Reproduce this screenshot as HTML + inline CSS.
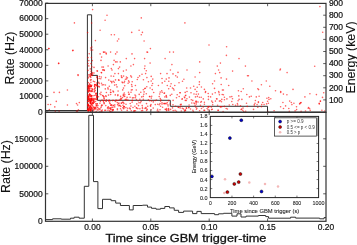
<!DOCTYPE html>
<html><head><meta charset="utf-8"><style>
html,body{margin:0;padding:0;background:#fff;}
svg{display:block;will-change:transform;}
text{font-family:"Liberation Sans",sans-serif;}
</style></head><body>
<svg width="357" height="245" viewBox="0 0 357 245" xmlns="http://www.w3.org/2000/svg">
<rect width="357" height="245" fill="#fff"/>
<path d="M45.5,110.5 L87.4,110.5 L87.4,14.8 L91.6,14.8 L91.6,75.4 L97.5,75.4 L97.5,100.3 L170.3,100.3 L170.3,106.3 L267.5,106.3 L267.5,112.3 L326.0,112.3" fill="none" stroke="#333" stroke-width="1.0"/>
<path d="M45.5,219.6 L52.6,219.6 L52.6,218.8 L61.3,218.8 L61.3,219.2 L70.5,219.2 L70.5,218.2 L74.2,218.2 L74.2,217.2 L79.1,217.2 L79.1,218.2 L84.3,218.2 L84.3,186.3 L88.8,186.3 L88.8,115.3 L93.5,115.3 L93.5,181.6 L97.9,181.6 L97.9,208.6 L102.5,208.6 L102.5,199.3 L111.1,199.3 L111.1,200.7 L115.7,200.7 L115.7,203.1 L120.4,203.1 L120.4,205.5 L129.4,205.5 L129.4,209.9 L133.2,209.9 L133.2,205.5 L142.6,205.5 L142.6,205.2 L147.5,205.2 L147.5,207.1 L151.5,207.1 L151.5,208.3 L156.0,208.3 L156.0,209.2 L160.5,209.2 L160.5,208.4 L164.8,208.4 L164.8,206.5 L169.5,206.5 L169.5,207.9 L174.2,207.9 L174.2,210.3 L178.6,210.3 L178.6,212.4 L183.6,212.4 L183.6,211.1 L192.6,211.1 L192.6,213.6 L196.9,213.6 L196.9,211.4 L201.2,211.4 L201.2,213.6 L214.6,213.6 L214.6,214.7 L218.5,214.7 L218.5,213.8 L223.5,213.8 L223.5,213.3 L231.9,213.3 L231.9,216.1 L237.0,216.1 L237.0,213.8 L241.0,213.8 L241.0,217.0 L246.1,217.0 L246.1,216.1 L258.4,216.1 L258.4,215.5 L265.7,215.5 L265.7,216.6 L268.5,216.6 L268.5,218.2 L290.6,218.2 L290.6,217.2 L295.6,217.2 L295.6,218.1 L319.7,218.1 L319.7,218.8 L324.0,218.8 L324.0,217.6 L326.0,217.6" fill="none" stroke="#333" stroke-width="1.0"/>
<!-- top panel dots -->
<g fill="#ff0000" fill-opacity="0.62">
<circle cx="74.4" cy="22.9" r="0.8"/>
<circle cx="48.7" cy="48.6" r="0.8"/>
<circle cx="72.7" cy="50.6" r="0.8"/>
<circle cx="58.7" cy="63.4" r="0.8"/>
<circle cx="92.6" cy="9.6" r="0.8"/>
<circle cx="107.0" cy="15.2" r="0.8"/>
<circle cx="105.1" cy="20.3" r="0.8"/>
<circle cx="141.3" cy="17.9" r="0.8"/>
<circle cx="100.1" cy="30.3" r="0.8"/>
<circle cx="111.3" cy="34.7" r="0.8"/>
<circle cx="114.4" cy="34.7" r="0.8"/>
<circle cx="118.7" cy="39.0" r="0.8"/>
<circle cx="131.7" cy="32.4" r="0.8"/>
<circle cx="139.1" cy="30.3" r="0.8"/>
<circle cx="142.4" cy="32.4" r="0.8"/>
<circle cx="141.3" cy="34.7" r="0.8"/>
<circle cx="95.4" cy="40.6" r="0.8"/>
<circle cx="91.6" cy="23.0" r="0.8"/>
<circle cx="87.6" cy="32.6" r="0.8"/>
<circle cx="90.6" cy="48.0" r="0.8"/>
<circle cx="184.9" cy="22.9" r="0.8"/>
<circle cx="319.9" cy="6.6" r="0.8"/>
<circle cx="322.7" cy="32.3" r="0.8"/>
<circle cx="314.7" cy="66.3" r="0.8"/>
<circle cx="280.4" cy="69.1" r="0.8"/>
<circle cx="150.4" cy="48.6" r="0.8"/>
<circle cx="147.6" cy="52.3" r="0.8"/>
<circle cx="169.7" cy="52.1" r="0.8"/>
<circle cx="173.4" cy="52.1" r="0.8"/>
<circle cx="165.1" cy="58.6" r="0.8"/>
<circle cx="150.1" cy="63.1" r="0.8"/>
<circle cx="171.9" cy="64.6" r="0.8"/>
<circle cx="170.4" cy="70.0" r="0.8"/>
<circle cx="178.0" cy="72.4" r="0.8"/>
<circle cx="187.0" cy="70.0" r="0.8"/>
<circle cx="160.6" cy="73.6" r="0.8"/>
<circle cx="167.0" cy="73.6" r="0.8"/>
<circle cx="173.0" cy="73.9" r="0.8"/>
<circle cx="209.0" cy="45.0" r="0.8"/>
<circle cx="226.6" cy="46.7" r="0.8"/>
<circle cx="226.4" cy="55.4" r="0.8"/>
<circle cx="239.0" cy="58.6" r="0.8"/>
<circle cx="199.7" cy="61.9" r="0.8"/>
<circle cx="220.4" cy="63.1" r="0.8"/>
<circle cx="217.3" cy="66.1" r="0.8"/>
<circle cx="245.4" cy="66.1" r="0.8"/>
<circle cx="218.6" cy="70.0" r="0.8"/>
<circle cx="232.6" cy="71.1" r="0.8"/>
<circle cx="199.7" cy="72.6" r="0.8"/>
<circle cx="215.4" cy="73.6" r="0.8"/>
<circle cx="219.7" cy="72.6" r="0.8"/>
<circle cx="280.0" cy="70.0" r="0.8"/>
<circle cx="287.1" cy="72.6" r="0.8"/>
<circle cx="117.4" cy="41.0" r="0.8"/>
<circle cx="144.1" cy="41.0" r="0.8"/>
<circle cx="100.1" cy="53.9" r="0.8"/>
<circle cx="103.4" cy="52.1" r="0.8"/>
<circle cx="104.9" cy="52.1" r="0.8"/>
<circle cx="106.3" cy="53.9" r="0.8"/>
<circle cx="110.6" cy="52.1" r="0.8"/>
<circle cx="115.6" cy="53.9" r="0.8"/>
<circle cx="117.0" cy="52.1" r="0.8"/>
<circle cx="132.0" cy="53.9" r="0.8"/>
<circle cx="147.0" cy="52.1" r="0.8"/>
<circle cx="101.6" cy="57.1" r="0.8"/>
<circle cx="101.0" cy="60.4" r="0.8"/>
<circle cx="126.3" cy="58.6" r="0.8"/>
<circle cx="134.6" cy="58.6" r="0.8"/>
<circle cx="144.6" cy="58.6" r="0.8"/>
<circle cx="114.1" cy="60.4" r="0.8"/>
<circle cx="115.6" cy="61.9" r="0.8"/>
<circle cx="117.0" cy="61.9" r="0.8"/>
<circle cx="120.3" cy="61.9" r="0.8"/>
<circle cx="113.4" cy="64.6" r="0.8"/>
<circle cx="108.1" cy="66.0" r="0.8"/>
<circle cx="102.0" cy="67.1" r="0.8"/>
<circle cx="103.4" cy="67.1" r="0.8"/>
<circle cx="111.3" cy="68.6" r="0.8"/>
<circle cx="119.6" cy="67.1" r="0.8"/>
<circle cx="118.4" cy="68.6" r="0.8"/>
<circle cx="130.9" cy="66.0" r="0.8"/>
<circle cx="133.4" cy="64.6" r="0.8"/>
<circle cx="144.9" cy="66.0" r="0.8"/>
<circle cx="97.4" cy="71.1" r="0.8"/>
<circle cx="102.7" cy="70.0" r="0.8"/>
<circle cx="104.1" cy="70.0" r="0.8"/>
<circle cx="112.0" cy="70.0" r="0.8"/>
<circle cx="123.4" cy="71.1" r="0.8"/>
<circle cx="126.3" cy="70.0" r="0.8"/>
<circle cx="144.6" cy="68.6" r="0.8"/>
<circle cx="146.3" cy="70.7" r="0.8"/>
<circle cx="101.3" cy="72.6" r="0.8"/>
<circle cx="114.9" cy="73.6" r="0.8"/>
<circle cx="118.4" cy="73.6" r="0.8"/>
<circle cx="142.0" cy="74.3" r="0.8"/>
<circle cx="145.6" cy="73.6" r="0.8"/>
<circle cx="73.0" cy="50.4" r="0.8"/>
<circle cx="58.6" cy="63.4" r="0.8"/>
<circle cx="78.0" cy="74.8" r="0.8"/>
<circle cx="54.0" cy="92.4" r="0.8"/>
<circle cx="59.4" cy="92.4" r="0.8"/>
<circle cx="67.4" cy="90.0" r="0.8"/>
<circle cx="78.1" cy="75.4" r="0.8"/>
<circle cx="56.3" cy="101.4" r="0.8"/>
<circle cx="48.1" cy="104.5" r="0.8"/>
<circle cx="50.6" cy="104.5" r="0.8"/>
<circle cx="54.8" cy="106.9" r="0.8"/>
<circle cx="67.4" cy="105.0" r="0.8"/>
<circle cx="49.3" cy="109.5" r="0.8"/>
<circle cx="55.3" cy="111.3" r="0.8"/>
<circle cx="59.1" cy="111.3" r="0.8"/>
<circle cx="76.5" cy="103.6" r="0.8"/>
<circle cx="77.6" cy="105.0" r="0.8"/>
<circle cx="79.3" cy="102.6" r="0.8"/>
<circle cx="78.4" cy="109.8" r="0.8"/>
<circle cx="76.5" cy="111.3" r="0.8"/>
<circle cx="77.4" cy="111.3" r="0.8"/>
<circle cx="49.0" cy="48.5" r="0.8"/>
<circle cx="91.8" cy="47.0" r="0.8"/>
<circle cx="91.0" cy="50.0" r="0.8"/>
<circle cx="92.6" cy="50.0" r="0.8"/>
<circle cx="89.2" cy="53.8" r="0.8"/>
<circle cx="103.9" cy="52.3" r="0.8"/>
<circle cx="106.1" cy="53.1" r="0.8"/>
<circle cx="88.0" cy="57.6" r="0.8"/>
<circle cx="88.8" cy="60.6" r="0.8"/>
<circle cx="88.0" cy="63.6" r="0.8"/>
<circle cx="88.8" cy="65.9" r="0.8"/>
<circle cx="91.4" cy="57.6" r="0.8"/>
<circle cx="92.3" cy="60.6" r="0.8"/>
<circle cx="91.0" cy="63.6" r="0.8"/>
<circle cx="91.8" cy="66.7" r="0.8"/>
<circle cx="94.0" cy="67.4" r="0.8"/>
<circle cx="103.1" cy="69.7" r="0.8"/>
<circle cx="104.3" cy="70.4" r="0.8"/>
<circle cx="90.3" cy="68.9" r="0.8"/>
<circle cx="91.0" cy="71.2" r="0.8"/>
<circle cx="88.0" cy="70.4" r="0.8"/>
<circle cx="92.6" cy="72.7" r="0.8"/>
<circle cx="97.1" cy="70.9" r="0.8"/>
<circle cx="94.0" cy="73.0" r="0.8"/>
<circle cx="101.6" cy="72.7" r="0.8"/>
<circle cx="151.2" cy="76.4" r="0.8"/>
<circle cx="152.8" cy="79.1" r="0.8"/>
<circle cx="151.2" cy="81.0" r="0.8"/>
<circle cx="148.4" cy="81.7" r="0.8"/>
<circle cx="152.6" cy="83.5" r="0.8"/>
<circle cx="151.9" cy="85.5" r="0.8"/>
<circle cx="150.1" cy="88.0" r="0.8"/>
<circle cx="152.3" cy="89.6" r="0.8"/>
<circle cx="158.4" cy="85.5" r="0.8"/>
<circle cx="162.0" cy="78.5" r="0.8"/>
<circle cx="162.2" cy="82.9" r="0.8"/>
<circle cx="166.3" cy="79.1" r="0.8"/>
<circle cx="164.8" cy="81.2" r="0.8"/>
<circle cx="169.0" cy="77.9" r="0.8"/>
<circle cx="168.8" cy="81.2" r="0.8"/>
<circle cx="171.1" cy="83.8" r="0.8"/>
<circle cx="167.3" cy="85.5" r="0.8"/>
<circle cx="170.4" cy="86.3" r="0.8"/>
<circle cx="172.4" cy="88.0" r="0.8"/>
<circle cx="168.7" cy="88.7" r="0.8"/>
<circle cx="161.7" cy="90.8" r="0.8"/>
<circle cx="175.7" cy="75.7" r="0.8"/>
<circle cx="177.3" cy="77.1" r="0.8"/>
<circle cx="183.9" cy="79.3" r="0.8"/>
<circle cx="182.5" cy="81.3" r="0.8"/>
<circle cx="179.0" cy="82.8" r="0.8"/>
<circle cx="195.1" cy="77.0" r="0.8"/>
<circle cx="174.8" cy="85.5" r="0.8"/>
<circle cx="173.4" cy="88.7" r="0.8"/>
<circle cx="174.0" cy="90.0" r="0.8"/>
<circle cx="186.7" cy="88.0" r="0.8"/>
<circle cx="190.5" cy="88.0" r="0.8"/>
<circle cx="193.7" cy="86.3" r="0.8"/>
<circle cx="197.2" cy="87.3" r="0.8"/>
<circle cx="195.1" cy="89.4" r="0.8"/>
<circle cx="187.0" cy="91.5" r="0.8"/>
<circle cx="196.8" cy="91.5" r="0.8"/>
<circle cx="221.1" cy="77.9" r="0.8"/>
<circle cx="199.4" cy="81.9" r="0.8"/>
<circle cx="214.5" cy="81.0" r="0.8"/>
<circle cx="199.3" cy="84.5" r="0.8"/>
<circle cx="212.6" cy="83.8" r="0.8"/>
<circle cx="221.2" cy="84.5" r="0.8"/>
<circle cx="201.4" cy="87.0" r="0.8"/>
<circle cx="214.5" cy="88.4" r="0.8"/>
<circle cx="204.4" cy="89.4" r="0.8"/>
<circle cx="218.7" cy="91.5" r="0.8"/>
<circle cx="222.4" cy="90.0" r="0.8"/>
<circle cx="205.6" cy="91.5" r="0.8"/>
<circle cx="226.5" cy="79.1" r="0.8"/>
<circle cx="228.7" cy="85.5" r="0.8"/>
<circle cx="247.5" cy="75.8" r="0.8"/>
<circle cx="223.4" cy="90.0" r="0.8"/>
<circle cx="243.3" cy="88.7" r="0.8"/>
<circle cx="238.4" cy="90.8" r="0.8"/>
<circle cx="241.2" cy="91.5" r="0.8"/>
<circle cx="198.4" cy="94.1" r="0.8"/>
<circle cx="205.4" cy="92.4" r="0.8"/>
<circle cx="208.2" cy="93.5" r="0.8"/>
<circle cx="212.4" cy="94.1" r="0.8"/>
<circle cx="215.2" cy="92.7" r="0.8"/>
<circle cx="219.0" cy="92.7" r="0.8"/>
<circle cx="219.4" cy="94.8" r="0.8"/>
<circle cx="222.2" cy="94.5" r="0.8"/>
<circle cx="199.4" cy="97.3" r="0.8"/>
<circle cx="201.2" cy="97.3" r="0.8"/>
<circle cx="208.4" cy="96.6" r="0.8"/>
<circle cx="210.6" cy="96.9" r="0.8"/>
<circle cx="203.3" cy="98.9" r="0.8"/>
<circle cx="208.4" cy="99.4" r="0.8"/>
<circle cx="216.6" cy="98.7" r="0.8"/>
<circle cx="217.0" cy="99.0" r="0.8"/>
<circle cx="221.8" cy="99.4" r="0.8"/>
<circle cx="201.4" cy="101.5" r="0.8"/>
<circle cx="200.8" cy="102.2" r="0.8"/>
<circle cx="204.4" cy="102.2" r="0.8"/>
<circle cx="204.4" cy="104.3" r="0.8"/>
<circle cx="211.7" cy="101.1" r="0.8"/>
<circle cx="212.6" cy="102.4" r="0.8"/>
<circle cx="215.4" cy="101.1" r="0.8"/>
<circle cx="219.4" cy="101.1" r="0.8"/>
<circle cx="220.4" cy="100.8" r="0.8"/>
<circle cx="221.5" cy="101.8" r="0.8"/>
<circle cx="212.7" cy="104.7" r="0.8"/>
<circle cx="200.5" cy="105.3" r="0.8"/>
<circle cx="217.6" cy="105.3" r="0.8"/>
<circle cx="207.8" cy="106.7" r="0.8"/>
<circle cx="211.3" cy="107.1" r="0.8"/>
<circle cx="201.5" cy="108.5" r="0.8"/>
<circle cx="207.1" cy="108.5" r="0.8"/>
<circle cx="221.8" cy="106.7" r="0.8"/>
<circle cx="223.4" cy="94.8" r="0.8"/>
<circle cx="224.4" cy="97.3" r="0.8"/>
<circle cx="224.4" cy="99.7" r="0.8"/>
<circle cx="226.9" cy="98.9" r="0.8"/>
<circle cx="230.0" cy="96.9" r="0.8"/>
<circle cx="231.8" cy="96.6" r="0.8"/>
<circle cx="232.5" cy="98.7" r="0.8"/>
<circle cx="238.8" cy="95.9" r="0.8"/>
<circle cx="239.1" cy="99.4" r="0.8"/>
<circle cx="238.1" cy="100.8" r="0.8"/>
<circle cx="241.9" cy="99.4" r="0.8"/>
<circle cx="246.8" cy="94.5" r="0.8"/>
<circle cx="231.8" cy="101.5" r="0.8"/>
<circle cx="232.8" cy="104.5" r="0.8"/>
<circle cx="229.3" cy="105.0" r="0.8"/>
<circle cx="237.4" cy="103.6" r="0.8"/>
<circle cx="235.6" cy="105.3" r="0.8"/>
<circle cx="237.7" cy="105.0" r="0.8"/>
<circle cx="240.5" cy="105.7" r="0.8"/>
<circle cx="246.5" cy="103.2" r="0.8"/>
<circle cx="224.4" cy="106.4" r="0.8"/>
<circle cx="247.2" cy="106.4" r="0.8"/>
<circle cx="226.2" cy="108.5" r="0.8"/>
<circle cx="243.0" cy="108.1" r="0.8"/>
<circle cx="248.4" cy="75.8" r="0.8"/>
<circle cx="251.9" cy="81.0" r="0.8"/>
<circle cx="266.3" cy="81.0" r="0.8"/>
<circle cx="261.4" cy="84.7" r="0.8"/>
<circle cx="269.8" cy="86.3" r="0.8"/>
<circle cx="257.8" cy="88.7" r="0.8"/>
<circle cx="258.6" cy="89.6" r="0.8"/>
<circle cx="249.4" cy="96.9" r="0.8"/>
<circle cx="251.2" cy="96.3" r="0.8"/>
<circle cx="256.3" cy="96.9" r="0.8"/>
<circle cx="259.1" cy="96.3" r="0.8"/>
<circle cx="266.9" cy="98.3" r="0.8"/>
<circle cx="268.7" cy="97.5" r="0.8"/>
<circle cx="270.8" cy="98.7" r="0.8"/>
<circle cx="269.0" cy="99.4" r="0.8"/>
<circle cx="255.4" cy="100.5" r="0.8"/>
<circle cx="258.4" cy="101.8" r="0.8"/>
<circle cx="258.4" cy="102.5" r="0.8"/>
<circle cx="267.6" cy="101.2" r="0.8"/>
<circle cx="262.7" cy="102.5" r="0.8"/>
<circle cx="255.0" cy="103.3" r="0.8"/>
<circle cx="254.3" cy="104.5" r="0.8"/>
<circle cx="257.1" cy="104.5" r="0.8"/>
<circle cx="261.7" cy="104.6" r="0.8"/>
<circle cx="264.1" cy="104.5" r="0.8"/>
<circle cx="266.6" cy="103.9" r="0.8"/>
<circle cx="268.4" cy="103.3" r="0.8"/>
<circle cx="254.3" cy="106.0" r="0.8"/>
<circle cx="257.8" cy="107.3" r="0.8"/>
<circle cx="261.4" cy="106.7" r="0.8"/>
<circle cx="275.5" cy="90.8" r="0.8"/>
<circle cx="293.0" cy="89.4" r="0.8"/>
<circle cx="280.7" cy="91.5" r="0.8"/>
<circle cx="280.7" cy="92.4" r="0.8"/>
<circle cx="283.4" cy="94.1" r="0.8"/>
<circle cx="286.9" cy="94.7" r="0.8"/>
<circle cx="289.7" cy="101.1" r="0.8"/>
<circle cx="291.3" cy="102.5" r="0.8"/>
<circle cx="293.9" cy="103.2" r="0.8"/>
<circle cx="291.9" cy="104.6" r="0.8"/>
<circle cx="282.9" cy="102.5" r="0.8"/>
<circle cx="285.6" cy="105.9" r="0.8"/>
<circle cx="280.6" cy="106.7" r="0.8"/>
<circle cx="283.5" cy="108.5" r="0.8"/>
<circle cx="288.8" cy="108.5" r="0.8"/>
<circle cx="296.5" cy="106.8" r="0.8"/>
<circle cx="309.9" cy="93.8" r="0.8"/>
<circle cx="316.4" cy="94.6" r="0.8"/>
<circle cx="323.7" cy="92.8" r="0.8"/>
<circle cx="304.9" cy="96.9" r="0.8"/>
<circle cx="322.5" cy="97.4" r="0.8"/>
<circle cx="301.0" cy="102.6" r="0.8"/>
<circle cx="300.0" cy="103.4" r="0.8"/>
<circle cx="320.4" cy="101.1" r="0.8"/>
<circle cx="319.2" cy="103.4" r="0.8"/>
<circle cx="300.7" cy="102.7" r="0.8"/>
<circle cx="299.6" cy="103.9" r="0.8"/>
<circle cx="320.4" cy="101.2" r="0.8"/>
<circle cx="319.3" cy="103.9" r="0.8"/>
<circle cx="308.6" cy="107.5" r="0.8"/>
<circle cx="309.6" cy="108.6" r="0.8"/>
<circle cx="310.2" cy="110.2" r="0.8"/>
<circle cx="308.2" cy="108.2" r="0.8"/>
<circle cx="301.1" cy="111.4" r="0.8"/>
<circle cx="305.5" cy="111.0" r="0.8"/>
<circle cx="321.9" cy="110.2" r="0.8"/>
<circle cx="324.7" cy="111.0" r="0.8"/>
<circle cx="105.6" cy="77.6" r="0.8"/>
<circle cx="113.6" cy="76.2" r="0.8"/>
<circle cx="110.8" cy="81.2" r="0.8"/>
<circle cx="99.2" cy="83.6" r="0.8"/>
<circle cx="98.7" cy="82.4" r="0.8"/>
<circle cx="99.5" cy="76.5" r="0.8"/>
<circle cx="108.1" cy="89.1" r="0.8"/>
<circle cx="100.8" cy="78.8" r="0.8"/>
<circle cx="113.0" cy="91.1" r="0.8"/>
<circle cx="111.8" cy="81.7" r="0.8"/>
<circle cx="121.4" cy="75.8" r="0.8"/>
<circle cx="118.6" cy="79.9" r="0.8"/>
<circle cx="101.3" cy="77.0" r="0.8"/>
<circle cx="105.3" cy="88.9" r="0.8"/>
<circle cx="102.2" cy="84.9" r="0.8"/>
<circle cx="113.3" cy="81.3" r="0.8"/>
<circle cx="111.1" cy="76.1" r="0.8"/>
<circle cx="99.2" cy="78.5" r="0.8"/>
<circle cx="114.3" cy="82.3" r="0.8"/>
<circle cx="105.4" cy="85.0" r="0.8"/>
<circle cx="108.8" cy="80.1" r="0.8"/>
<circle cx="117.0" cy="86.9" r="0.8"/>
<circle cx="103.7" cy="84.8" r="0.8"/>
<circle cx="110.5" cy="89.9" r="0.8"/>
<circle cx="115.5" cy="79.9" r="0.8"/>
<circle cx="121.5" cy="77.0" r="0.8"/>
<circle cx="107.9" cy="87.9" r="0.8"/>
<circle cx="101.5" cy="83.3" r="0.8"/>
<circle cx="98.7" cy="86.4" r="0.8"/>
<circle cx="116.3" cy="84.7" r="0.8"/>
<circle cx="119.0" cy="80.3" r="0.8"/>
<circle cx="114.6" cy="85.1" r="0.8"/>
<circle cx="111.8" cy="82.8" r="0.8"/>
<circle cx="118.1" cy="91.1" r="0.8"/>
<circle cx="109.3" cy="86.3" r="0.8"/>
<circle cx="99.3" cy="86.9" r="0.8"/>
<circle cx="113.5" cy="91.9" r="0.8"/>
<circle cx="143.4" cy="79.8" r="0.8"/>
<circle cx="132.0" cy="86.4" r="0.8"/>
<circle cx="122.6" cy="82.8" r="0.8"/>
<circle cx="126.4" cy="77.0" r="0.8"/>
<circle cx="123.5" cy="88.1" r="0.8"/>
<circle cx="125.4" cy="79.2" r="0.8"/>
<circle cx="132.2" cy="89.8" r="0.8"/>
<circle cx="124.1" cy="82.6" r="0.8"/>
<circle cx="136.3" cy="90.0" r="0.8"/>
<circle cx="143.3" cy="89.7" r="0.8"/>
<circle cx="129.2" cy="82.1" r="0.8"/>
<circle cx="131.3" cy="90.0" r="0.8"/>
<circle cx="146.9" cy="77.6" r="0.8"/>
<circle cx="126.6" cy="78.9" r="0.8"/>
<circle cx="128.1" cy="83.2" r="0.8"/>
<circle cx="137.3" cy="79.5" r="0.8"/>
<circle cx="122.1" cy="82.1" r="0.8"/>
<circle cx="131.6" cy="84.6" r="0.8"/>
<circle cx="146.8" cy="86.7" r="0.8"/>
<circle cx="135.4" cy="85.5" r="0.8"/>
<circle cx="139.6" cy="75.9" r="0.8"/>
<circle cx="145.4" cy="88.3" r="0.8"/>
<circle cx="144.7" cy="88.6" r="0.8"/>
<circle cx="132.2" cy="81.8" r="0.8"/>
<circle cx="124.7" cy="85.8" r="0.8"/>
<circle cx="123.6" cy="76.1" r="0.8"/>
<circle cx="127.4" cy="77.8" r="0.8"/>
<circle cx="130.8" cy="75.9" r="0.8"/>
<circle cx="122.0" cy="77.6" r="0.8"/>
<circle cx="124.6" cy="81.2" r="0.8"/>
<circle cx="122.7" cy="89.9" r="0.8"/>
<circle cx="138.0" cy="77.5" r="0.8"/>
<circle cx="128.6" cy="80.9" r="0.8"/>
<circle cx="131.5" cy="77.1" r="0.8"/>
<circle cx="144.1" cy="91.9" r="0.8"/>
<circle cx="109.1" cy="100.2" r="0.8"/>
<circle cx="99.9" cy="93.7" r="0.8"/>
<circle cx="106.1" cy="96.5" r="0.8"/>
<circle cx="117.9" cy="94.7" r="0.8"/>
<circle cx="98.4" cy="108.2" r="0.8"/>
<circle cx="110.6" cy="94.5" r="0.8"/>
<circle cx="110.9" cy="92.5" r="0.8"/>
<circle cx="110.6" cy="108.6" r="0.8"/>
<circle cx="118.7" cy="103.8" r="0.8"/>
<circle cx="104.1" cy="98.2" r="0.8"/>
<circle cx="101.8" cy="105.1" r="0.8"/>
<circle cx="110.7" cy="105.2" r="0.8"/>
<circle cx="105.8" cy="95.8" r="0.8"/>
<circle cx="117.4" cy="108.7" r="0.8"/>
<circle cx="118.4" cy="105.7" r="0.8"/>
<circle cx="117.6" cy="104.6" r="0.8"/>
<circle cx="103.3" cy="100.8" r="0.8"/>
<circle cx="106.4" cy="92.5" r="0.8"/>
<circle cx="98.5" cy="96.8" r="0.8"/>
<circle cx="104.1" cy="103.8" r="0.8"/>
<circle cx="120.9" cy="99.6" r="0.8"/>
<circle cx="120.5" cy="108.8" r="0.8"/>
<circle cx="120.9" cy="98.2" r="0.8"/>
<circle cx="103.1" cy="95.9" r="0.8"/>
<circle cx="102.6" cy="95.5" r="0.8"/>
<circle cx="112.9" cy="107.3" r="0.8"/>
<circle cx="118.1" cy="100.2" r="0.8"/>
<circle cx="113.6" cy="105.6" r="0.8"/>
<circle cx="99.9" cy="103.2" r="0.8"/>
<circle cx="119.8" cy="105.3" r="0.8"/>
<circle cx="116.0" cy="100.1" r="0.8"/>
<circle cx="102.1" cy="105.4" r="0.8"/>
<circle cx="105.8" cy="105.6" r="0.8"/>
<circle cx="121.3" cy="98.7" r="0.8"/>
<circle cx="107.5" cy="108.1" r="0.8"/>
<circle cx="115.3" cy="94.9" r="0.8"/>
<circle cx="100.9" cy="94.6" r="0.8"/>
<circle cx="119.7" cy="105.7" r="0.8"/>
<circle cx="101.3" cy="106.1" r="0.8"/>
<circle cx="121.5" cy="103.2" r="0.8"/>
<circle cx="106.3" cy="101.3" r="0.8"/>
<circle cx="101.0" cy="92.2" r="0.8"/>
<circle cx="121.3" cy="103.0" r="0.8"/>
<circle cx="110.5" cy="107.9" r="0.8"/>
<circle cx="108.3" cy="106.8" r="0.8"/>
<circle cx="117.8" cy="95.6" r="0.8"/>
<circle cx="103.9" cy="97.0" r="0.8"/>
<circle cx="103.6" cy="102.0" r="0.8"/>
<circle cx="104.1" cy="99.1" r="0.8"/>
<circle cx="101.0" cy="107.5" r="0.8"/>
<circle cx="106.4" cy="99.8" r="0.8"/>
<circle cx="111.9" cy="107.4" r="0.8"/>
<circle cx="108.0" cy="107.6" r="0.8"/>
<circle cx="109.9" cy="101.0" r="0.8"/>
<circle cx="110.5" cy="92.3" r="0.8"/>
<circle cx="108.5" cy="95.1" r="0.8"/>
<circle cx="97.9" cy="105.6" r="0.8"/>
<circle cx="102.0" cy="100.0" r="0.8"/>
<circle cx="115.3" cy="101.5" r="0.8"/>
<circle cx="105.7" cy="100.8" r="0.8"/>
<circle cx="111.2" cy="105.3" r="0.8"/>
<circle cx="100.4" cy="101.5" r="0.8"/>
<circle cx="103.8" cy="96.7" r="0.8"/>
<circle cx="116.5" cy="100.6" r="0.8"/>
<circle cx="111.4" cy="104.9" r="0.8"/>
<circle cx="119.9" cy="99.5" r="0.8"/>
<circle cx="112.6" cy="100.6" r="0.8"/>
<circle cx="110.2" cy="103.8" r="0.8"/>
<circle cx="108.7" cy="101.1" r="0.8"/>
<circle cx="109.4" cy="108.0" r="0.8"/>
<circle cx="114.7" cy="106.9" r="0.8"/>
<circle cx="120.6" cy="96.4" r="0.8"/>
<circle cx="136.5" cy="108.0" r="0.8"/>
<circle cx="143.8" cy="94.3" r="0.8"/>
<circle cx="125.2" cy="99.5" r="0.8"/>
<circle cx="123.9" cy="96.1" r="0.8"/>
<circle cx="123.9" cy="103.4" r="0.8"/>
<circle cx="142.4" cy="107.2" r="0.8"/>
<circle cx="126.0" cy="104.2" r="0.8"/>
<circle cx="139.2" cy="94.4" r="0.8"/>
<circle cx="145.0" cy="108.4" r="0.8"/>
<circle cx="127.7" cy="108.2" r="0.8"/>
<circle cx="132.4" cy="100.3" r="0.8"/>
<circle cx="147.7" cy="106.2" r="0.8"/>
<circle cx="126.2" cy="99.3" r="0.8"/>
<circle cx="135.4" cy="97.8" r="0.8"/>
<circle cx="127.1" cy="97.4" r="0.8"/>
<circle cx="140.8" cy="92.3" r="0.8"/>
<circle cx="136.4" cy="99.5" r="0.8"/>
<circle cx="122.5" cy="97.6" r="0.8"/>
<circle cx="138.2" cy="100.7" r="0.8"/>
<circle cx="123.7" cy="108.7" r="0.8"/>
<circle cx="142.5" cy="108.5" r="0.8"/>
<circle cx="124.7" cy="96.5" r="0.8"/>
<circle cx="123.0" cy="105.2" r="0.8"/>
<circle cx="129.0" cy="94.2" r="0.8"/>
<circle cx="133.0" cy="107.5" r="0.8"/>
<circle cx="143.3" cy="96.4" r="0.8"/>
<circle cx="125.9" cy="107.6" r="0.8"/>
<circle cx="136.8" cy="103.9" r="0.8"/>
<circle cx="124.3" cy="93.0" r="0.8"/>
<circle cx="139.9" cy="99.2" r="0.8"/>
<circle cx="123.9" cy="108.0" r="0.8"/>
<circle cx="138.5" cy="105.6" r="0.8"/>
<circle cx="124.2" cy="106.6" r="0.8"/>
<circle cx="123.7" cy="106.7" r="0.8"/>
<circle cx="133.8" cy="97.8" r="0.8"/>
<circle cx="136.4" cy="107.8" r="0.8"/>
<circle cx="129.0" cy="94.2" r="0.8"/>
<circle cx="135.7" cy="96.1" r="0.8"/>
<circle cx="124.8" cy="94.7" r="0.8"/>
<circle cx="123.3" cy="95.4" r="0.8"/>
<circle cx="130.1" cy="97.2" r="0.8"/>
<circle cx="141.7" cy="96.9" r="0.8"/>
<circle cx="135.0" cy="95.0" r="0.8"/>
<circle cx="131.0" cy="92.3" r="0.8"/>
<circle cx="128.5" cy="92.3" r="0.8"/>
<circle cx="141.1" cy="101.4" r="0.8"/>
<circle cx="126.9" cy="100.1" r="0.8"/>
<circle cx="146.3" cy="93.8" r="0.8"/>
<circle cx="143.3" cy="99.3" r="0.8"/>
<circle cx="134.9" cy="106.2" r="0.8"/>
<circle cx="132.2" cy="100.6" r="0.8"/>
<circle cx="139.9" cy="108.7" r="0.8"/>
<circle cx="130.9" cy="106.1" r="0.8"/>
<circle cx="140.4" cy="102.8" r="0.8"/>
<circle cx="132.5" cy="97.9" r="0.8"/>
<circle cx="123.4" cy="94.2" r="0.8"/>
<circle cx="101.4" cy="110.9" r="0.8"/>
<circle cx="110.6" cy="109.4" r="0.8"/>
<circle cx="102.0" cy="111.2" r="0.8"/>
<circle cx="141.5" cy="110.7" r="0.8"/>
<circle cx="112.0" cy="109.6" r="0.8"/>
<circle cx="112.5" cy="110.2" r="0.8"/>
<circle cx="105.7" cy="110.2" r="0.8"/>
<circle cx="111.0" cy="111.5" r="0.8"/>
<circle cx="146.6" cy="110.4" r="0.8"/>
<circle cx="110.1" cy="111.5" r="0.8"/>
<circle cx="113.3" cy="109.9" r="0.8"/>
<circle cx="97.9" cy="110.0" r="0.8"/>
<circle cx="121.6" cy="110.3" r="0.8"/>
<circle cx="107.9" cy="110.3" r="0.8"/>
<circle cx="98.0" cy="109.7" r="0.8"/>
<circle cx="102.3" cy="110.0" r="0.8"/>
<circle cx="99.9" cy="109.1" r="0.8"/>
<circle cx="113.1" cy="109.6" r="0.8"/>
<circle cx="127.2" cy="110.4" r="0.8"/>
<circle cx="135.5" cy="110.7" r="0.8"/>
<circle cx="133.7" cy="111.3" r="0.8"/>
<circle cx="117.4" cy="109.8" r="0.8"/>
<circle cx="147.2" cy="109.4" r="0.8"/>
<circle cx="134.2" cy="110.7" r="0.8"/>
<circle cx="100.0" cy="111.2" r="0.8"/>
<circle cx="142.6" cy="110.6" r="0.8"/>
<circle cx="134.6" cy="111.1" r="0.8"/>
<circle cx="104.8" cy="110.4" r="0.8"/>
<circle cx="160.6" cy="106.2" r="0.8"/>
<circle cx="168.1" cy="106.0" r="0.8"/>
<circle cx="162.6" cy="107.2" r="0.8"/>
<circle cx="165.1" cy="103.8" r="0.8"/>
<circle cx="153.7" cy="92.5" r="0.8"/>
<circle cx="151.3" cy="98.1" r="0.8"/>
<circle cx="150.6" cy="106.2" r="0.8"/>
<circle cx="162.0" cy="102.7" r="0.8"/>
<circle cx="163.7" cy="103.6" r="0.8"/>
<circle cx="160.2" cy="92.1" r="0.8"/>
<circle cx="167.9" cy="104.7" r="0.8"/>
<circle cx="160.6" cy="101.1" r="0.8"/>
<circle cx="164.5" cy="93.1" r="0.8"/>
<circle cx="166.4" cy="96.3" r="0.8"/>
<circle cx="149.9" cy="96.5" r="0.8"/>
<circle cx="166.2" cy="95.5" r="0.8"/>
<circle cx="166.5" cy="108.6" r="0.8"/>
<circle cx="160.3" cy="98.5" r="0.8"/>
<circle cx="160.0" cy="103.6" r="0.8"/>
<circle cx="167.2" cy="102.5" r="0.8"/>
<circle cx="164.1" cy="93.3" r="0.8"/>
<circle cx="151.7" cy="96.3" r="0.8"/>
<circle cx="166.6" cy="97.2" r="0.8"/>
<circle cx="162.2" cy="92.2" r="0.8"/>
<circle cx="149.5" cy="96.6" r="0.8"/>
<circle cx="164.8" cy="103.8" r="0.8"/>
<circle cx="164.9" cy="96.9" r="0.8"/>
<circle cx="160.9" cy="99.9" r="0.8"/>
<circle cx="159.7" cy="94.0" r="0.8"/>
<circle cx="170.3" cy="95.4" r="0.8"/>
<circle cx="172.5" cy="107.9" r="0.8"/>
<circle cx="148.4" cy="99.8" r="0.8"/>
<circle cx="168.5" cy="108.5" r="0.8"/>
<circle cx="159.2" cy="96.6" r="0.8"/>
<circle cx="153.2" cy="108.1" r="0.8"/>
<circle cx="153.3" cy="101.9" r="0.8"/>
<circle cx="151.5" cy="100.9" r="0.8"/>
<circle cx="171.8" cy="94.3" r="0.8"/>
<circle cx="168.5" cy="100.6" r="0.8"/>
<circle cx="170.2" cy="104.0" r="0.8"/>
<circle cx="178.8" cy="107.3" r="0.8"/>
<circle cx="185.2" cy="92.4" r="0.8"/>
<circle cx="173.1" cy="100.4" r="0.8"/>
<circle cx="184.3" cy="97.1" r="0.8"/>
<circle cx="176.5" cy="97.8" r="0.8"/>
<circle cx="180.9" cy="106.3" r="0.8"/>
<circle cx="173.0" cy="104.8" r="0.8"/>
<circle cx="194.0" cy="94.0" r="0.8"/>
<circle cx="196.2" cy="104.1" r="0.8"/>
<circle cx="195.5" cy="96.9" r="0.8"/>
<circle cx="182.3" cy="98.7" r="0.8"/>
<circle cx="198.0" cy="102.0" r="0.8"/>
<circle cx="182.0" cy="99.3" r="0.8"/>
<circle cx="179.9" cy="92.8" r="0.8"/>
<circle cx="175.5" cy="106.2" r="0.8"/>
<circle cx="180.1" cy="107.9" r="0.8"/>
<circle cx="179.2" cy="96.5" r="0.8"/>
<circle cx="185.8" cy="95.2" r="0.8"/>
<circle cx="182.3" cy="108.3" r="0.8"/>
<circle cx="195.1" cy="105.8" r="0.8"/>
<circle cx="188.8" cy="107.5" r="0.8"/>
<circle cx="196.5" cy="101.3" r="0.8"/>
<circle cx="191.0" cy="92.8" r="0.8"/>
<circle cx="191.3" cy="99.7" r="0.8"/>
<circle cx="191.8" cy="103.0" r="0.8"/>
<circle cx="180.2" cy="92.8" r="0.8"/>
<circle cx="196.2" cy="94.2" r="0.8"/>
<circle cx="184.8" cy="97.8" r="0.8"/>
<circle cx="180.4" cy="104.6" r="0.8"/>
<circle cx="197.4" cy="96.4" r="0.8"/>
<circle cx="189.4" cy="97.1" r="0.8"/>
<circle cx="186.9" cy="98.7" r="0.8"/>
<circle cx="177.2" cy="94.7" r="0.8"/>
<circle cx="178.2" cy="107.4" r="0.8"/>
<circle cx="185.4" cy="95.7" r="0.8"/>
<circle cx="193.3" cy="111.6" r="0.8"/>
<circle cx="170.5" cy="109.4" r="0.8"/>
<circle cx="157.6" cy="109.2" r="0.8"/>
<circle cx="165.1" cy="109.2" r="0.8"/>
<circle cx="160.0" cy="109.7" r="0.8"/>
<circle cx="176.5" cy="111.3" r="0.8"/>
<circle cx="185.5" cy="110.1" r="0.8"/>
<circle cx="168.7" cy="110.4" r="0.8"/>
<circle cx="166.8" cy="109.9" r="0.8"/>
<circle cx="151.1" cy="109.7" r="0.8"/>
<circle cx="196.4" cy="109.3" r="0.8"/>
<circle cx="173.2" cy="110.6" r="0.8"/>
<circle cx="241.1" cy="109.6" r="0.8"/>
<circle cx="211.6" cy="109.6" r="0.8"/>
<circle cx="218.0" cy="110.2" r="0.8"/>
<circle cx="245.7" cy="111.2" r="0.8"/>
<circle cx="241.6" cy="109.1" r="0.8"/>
<circle cx="199.6" cy="110.8" r="0.8"/>
<circle cx="242.8" cy="110.2" r="0.8"/>
<circle cx="227.4" cy="109.0" r="0.8"/>
<circle cx="267.6" cy="111.4" r="0.8"/>
<circle cx="289.3" cy="111.2" r="0.8"/>
<circle cx="296.6" cy="109.6" r="0.8"/>
<circle cx="253.5" cy="109.4" r="0.8"/>
<circle cx="274.1" cy="110.8" r="0.8"/>
<circle cx="295.1" cy="110.9" r="0.8"/>
<circle cx="130.3" cy="108.9" r="0.8"/>
<circle cx="120.8" cy="106.4" r="0.8"/>
<circle cx="99.8" cy="109.1" r="0.8"/>
<circle cx="109.5" cy="110.7" r="0.8"/>
<circle cx="130.2" cy="103.5" r="0.8"/>
<circle cx="104.2" cy="102.9" r="0.8"/>
<circle cx="129.7" cy="108.1" r="0.8"/>
<circle cx="103.4" cy="100.8" r="0.8"/>
<circle cx="124.1" cy="106.8" r="0.8"/>
<circle cx="117.3" cy="102.6" r="0.8"/>
<circle cx="128.0" cy="100.1" r="0.8"/>
<circle cx="112.9" cy="105.3" r="0.8"/>
<circle cx="145.9" cy="107.5" r="0.8"/>
<circle cx="142.2" cy="105.5" r="0.8"/>
<circle cx="109.6" cy="102.9" r="0.8"/>
<circle cx="146.0" cy="108.2" r="0.8"/>
<circle cx="113.2" cy="100.3" r="0.8"/>
<circle cx="122.8" cy="107.8" r="0.8"/>
<circle cx="118.9" cy="103.0" r="0.8"/>
<circle cx="131.3" cy="110.7" r="0.8"/>
<circle cx="109.2" cy="100.4" r="0.8"/>
<circle cx="114.8" cy="104.9" r="0.8"/>
<circle cx="132.1" cy="102.3" r="0.8"/>
<circle cx="137.8" cy="108.6" r="0.8"/>
<circle cx="123.1" cy="102.4" r="0.8"/>
<circle cx="146.5" cy="103.6" r="0.8"/>
<circle cx="139.0" cy="102.7" r="0.8"/>
<circle cx="108.9" cy="108.8" r="0.8"/>
<circle cx="112.6" cy="111.0" r="0.8"/>
<circle cx="122.7" cy="102.2" r="0.8"/>
<circle cx="159.2" cy="104.8" r="0.8"/>
<circle cx="181.3" cy="111.0" r="0.8"/>
<circle cx="155.3" cy="104.6" r="0.8"/>
<circle cx="158.6" cy="111.3" r="0.8"/>
<circle cx="155.1" cy="100.6" r="0.8"/>
<circle cx="151.0" cy="104.6" r="0.8"/>
<circle cx="192.9" cy="110.2" r="0.8"/>
<circle cx="184.6" cy="111.6" r="0.8"/>
<circle cx="194.6" cy="103.8" r="0.8"/>
<circle cx="157.3" cy="110.9" r="0.8"/>
<circle cx="185.3" cy="100.4" r="0.8"/>
<circle cx="181.2" cy="104.4" r="0.8"/>
<circle cx="166.7" cy="103.8" r="0.8"/>
<circle cx="156.5" cy="100.0" r="0.8"/>
<circle cx="162.0" cy="104.1" r="0.8"/>
<circle cx="195.8" cy="101.4" r="0.8"/>
<circle cx="196.2" cy="102.4" r="0.8"/>
<circle cx="165.8" cy="109.5" r="0.8"/>
<circle cx="189.1" cy="105.0" r="0.8"/>
<circle cx="150.5" cy="105.5" r="0.8"/>
<circle cx="166.6" cy="110.7" r="0.8"/>
<circle cx="157.7" cy="104.2" r="0.8"/>
<circle cx="192.8" cy="100.4" r="0.8"/>
<circle cx="168.5" cy="109.4" r="0.8"/>
<circle cx="186.3" cy="100.5" r="0.8"/>
<circle cx="149.7" cy="100.7" r="0.8"/>
<circle cx="194.0" cy="103.0" r="0.8"/>
<circle cx="185.4" cy="110.4" r="0.8"/>
<circle cx="165.0" cy="103.2" r="0.8"/>
<circle cx="195.9" cy="107.2" r="0.8"/>
<circle cx="184.4" cy="110.2" r="0.8"/>
<circle cx="186.4" cy="107.9" r="0.8"/>
<circle cx="175.1" cy="110.4" r="0.8"/>
<circle cx="208.0" cy="109.7" r="0.8"/>
<circle cx="209.0" cy="106.6" r="0.8"/>
<circle cx="183.4" cy="108.9" r="0.8"/>
<circle cx="209.4" cy="111.4" r="0.8"/>
<circle cx="188.9" cy="107.8" r="0.8"/>
<circle cx="190.5" cy="109.0" r="0.8"/>
<circle cx="208.4" cy="107.4" r="0.8"/>
<circle cx="203.9" cy="110.3" r="0.8"/>
<circle cx="204.6" cy="110.4" r="0.8"/>
<circle cx="196.9" cy="108.2" r="0.8"/>
<circle cx="186.5" cy="108.3" r="0.8"/>
<circle cx="203.2" cy="106.9" r="0.8"/>
<circle cx="218.3" cy="110.3" r="0.8"/>
<circle cx="220.2" cy="106.8" r="0.8"/>
<circle cx="212.3" cy="109.3" r="0.8"/>
<circle cx="223.1" cy="111.5" r="0.8"/>
<circle cx="243.7" cy="111.5" r="0.8"/>
<circle cx="220.8" cy="106.9" r="0.8"/>
<circle cx="88.2" cy="78.0" r="0.8"/>
<circle cx="90.8" cy="77.4" r="0.8"/>
<circle cx="88.8" cy="77.0" r="0.8"/>
<circle cx="90.4" cy="80.1" r="0.8"/>
<circle cx="90.9" cy="82.2" r="0.8"/>
<circle cx="90.6" cy="73.5" r="0.8"/>
<circle cx="91.3" cy="75.5" r="0.8"/>
<circle cx="90.2" cy="76.5" r="0.8"/>
<circle cx="90.9" cy="74.4" r="0.8"/>
<circle cx="88.8" cy="74.9" r="0.8"/>
<circle cx="88.4" cy="82.6" r="0.8"/>
<circle cx="90.2" cy="75.9" r="0.8"/>
<circle cx="89.5" cy="83.9" r="0.8"/>
<circle cx="89.9" cy="74.8" r="0.8"/>
<circle cx="91.2" cy="79.8" r="0.8"/>
<circle cx="92.0" cy="73.2" r="0.8"/>
<circle cx="94.6" cy="81.8" r="0.8"/>
<circle cx="96.6" cy="83.0" r="0.8"/>
<circle cx="92.2" cy="75.5" r="0.8"/>
<circle cx="92.7" cy="74.3" r="0.8"/>
<circle cx="97.4" cy="79.0" r="0.8"/>
<circle cx="97.1" cy="76.5" r="0.8"/>
<circle cx="96.8" cy="77.4" r="0.8"/>
<circle cx="93.4" cy="81.3" r="0.8"/>
<circle cx="91.8" cy="85.3" r="0.8"/>
<circle cx="90.3" cy="91.4" r="0.8"/>
<circle cx="88.7" cy="88.4" r="0.8"/>
<circle cx="88.4" cy="86.4" r="0.8"/>
<circle cx="88.9" cy="91.2" r="0.8"/>
<circle cx="90.5" cy="86.4" r="0.8"/>
<circle cx="87.8" cy="87.9" r="0.8"/>
<circle cx="90.6" cy="86.2" r="0.8"/>
<circle cx="89.1" cy="86.4" r="0.8"/>
<circle cx="91.1" cy="90.6" r="0.8"/>
<circle cx="88.1" cy="85.2" r="0.8"/>
<circle cx="89.5" cy="90.6" r="0.8"/>
<circle cx="90.5" cy="85.1" r="0.8"/>
<circle cx="88.5" cy="92.3" r="0.8"/>
<circle cx="89.5" cy="87.4" r="0.8"/>
<circle cx="89.1" cy="95.4" r="0.8"/>
<circle cx="89.1" cy="90.8" r="0.8"/>
<circle cx="89.3" cy="89.0" r="0.8"/>
<circle cx="91.4" cy="96.0" r="0.8"/>
<circle cx="89.3" cy="86.4" r="0.8"/>
<circle cx="90.9" cy="86.4" r="0.8"/>
<circle cx="87.8" cy="94.8" r="0.8"/>
<circle cx="89.6" cy="93.8" r="0.8"/>
<circle cx="89.5" cy="94.6" r="0.8"/>
<circle cx="89.7" cy="86.0" r="0.8"/>
<circle cx="87.9" cy="90.6" r="0.8"/>
<circle cx="90.5" cy="94.9" r="0.8"/>
<circle cx="88.2" cy="91.5" r="0.8"/>
<circle cx="89.4" cy="90.1" r="0.8"/>
<circle cx="88.4" cy="87.4" r="0.8"/>
<circle cx="90.0" cy="95.1" r="0.8"/>
<circle cx="88.3" cy="89.9" r="0.8"/>
<circle cx="91.2" cy="95.6" r="0.8"/>
<circle cx="88.6" cy="85.5" r="0.8"/>
<circle cx="91.8" cy="95.7" r="0.8"/>
<circle cx="89.8" cy="84.6" r="0.8"/>
<circle cx="91.7" cy="88.7" r="0.8"/>
<circle cx="91.6" cy="91.4" r="0.8"/>
<circle cx="91.3" cy="85.9" r="0.8"/>
<circle cx="91.1" cy="86.7" r="0.8"/>
<circle cx="89.5" cy="94.2" r="0.8"/>
<circle cx="91.3" cy="86.2" r="0.8"/>
<circle cx="88.7" cy="88.8" r="0.8"/>
<circle cx="90.0" cy="88.6" r="0.8"/>
<circle cx="88.3" cy="87.0" r="0.8"/>
<circle cx="96.0" cy="94.8" r="0.8"/>
<circle cx="92.2" cy="90.7" r="0.8"/>
<circle cx="96.2" cy="84.5" r="0.8"/>
<circle cx="96.6" cy="85.4" r="0.8"/>
<circle cx="95.3" cy="90.6" r="0.8"/>
<circle cx="95.4" cy="87.7" r="0.8"/>
<circle cx="94.3" cy="91.0" r="0.8"/>
<circle cx="94.3" cy="91.9" r="0.8"/>
<circle cx="94.5" cy="89.3" r="0.8"/>
<circle cx="92.1" cy="91.4" r="0.8"/>
<circle cx="94.7" cy="86.8" r="0.8"/>
<circle cx="96.2" cy="93.4" r="0.8"/>
<circle cx="94.5" cy="86.2" r="0.8"/>
<circle cx="94.6" cy="85.3" r="0.8"/>
<circle cx="92.7" cy="89.2" r="0.8"/>
<circle cx="92.5" cy="89.3" r="0.8"/>
<circle cx="94.8" cy="84.5" r="0.8"/>
<circle cx="95.5" cy="85.0" r="0.8"/>
<circle cx="96.0" cy="93.3" r="0.8"/>
<circle cx="94.8" cy="84.7" r="0.8"/>
<circle cx="94.8" cy="88.5" r="0.8"/>
<circle cx="97.2" cy="85.6" r="0.8"/>
<circle cx="96.7" cy="96.0" r="0.8"/>
<circle cx="96.0" cy="93.8" r="0.8"/>
<circle cx="93.1" cy="95.8" r="0.8"/>
<circle cx="94.7" cy="95.5" r="0.8"/>
<circle cx="97.0" cy="86.0" r="0.8"/>
<circle cx="96.3" cy="95.2" r="0.8"/>
<circle cx="88.1" cy="101.5" r="0.8"/>
<circle cx="91.0" cy="98.5" r="0.8"/>
<circle cx="91.6" cy="100.3" r="0.8"/>
<circle cx="91.2" cy="98.2" r="0.8"/>
<circle cx="89.9" cy="110.4" r="0.8"/>
<circle cx="88.7" cy="100.1" r="0.8"/>
<circle cx="89.9" cy="101.0" r="0.8"/>
<circle cx="88.0" cy="98.8" r="0.8"/>
<circle cx="88.5" cy="110.6" r="0.8"/>
<circle cx="90.7" cy="110.0" r="0.8"/>
<circle cx="88.5" cy="108.2" r="0.8"/>
<circle cx="88.3" cy="104.3" r="0.8"/>
<circle cx="90.5" cy="101.6" r="0.8"/>
<circle cx="91.5" cy="104.7" r="0.8"/>
<circle cx="90.2" cy="109.8" r="0.8"/>
<circle cx="88.2" cy="111.5" r="0.8"/>
<circle cx="90.4" cy="102.2" r="0.8"/>
<circle cx="91.2" cy="100.1" r="0.8"/>
<circle cx="92.0" cy="105.0" r="0.8"/>
<circle cx="89.3" cy="107.9" r="0.8"/>
<circle cx="89.7" cy="98.8" r="0.8"/>
<circle cx="90.9" cy="96.8" r="0.8"/>
<circle cx="91.2" cy="100.0" r="0.8"/>
<circle cx="90.5" cy="111.4" r="0.8"/>
<circle cx="90.3" cy="106.4" r="0.8"/>
<circle cx="89.1" cy="96.0" r="0.8"/>
<circle cx="87.9" cy="98.3" r="0.8"/>
<circle cx="90.4" cy="102.7" r="0.8"/>
<circle cx="90.0" cy="110.0" r="0.8"/>
<circle cx="88.4" cy="99.5" r="0.8"/>
<circle cx="90.5" cy="96.3" r="0.8"/>
<circle cx="87.8" cy="101.5" r="0.8"/>
<circle cx="88.2" cy="101.6" r="0.8"/>
<circle cx="88.7" cy="105.1" r="0.8"/>
<circle cx="90.3" cy="99.2" r="0.8"/>
<circle cx="90.4" cy="103.4" r="0.8"/>
<circle cx="88.4" cy="110.6" r="0.8"/>
<circle cx="88.8" cy="98.3" r="0.8"/>
<circle cx="88.2" cy="106.0" r="0.8"/>
<circle cx="91.5" cy="108.2" r="0.8"/>
<circle cx="89.5" cy="100.1" r="0.8"/>
<circle cx="87.8" cy="106.1" r="0.8"/>
<circle cx="90.2" cy="101.5" r="0.8"/>
<circle cx="90.5" cy="102.9" r="0.8"/>
<circle cx="91.7" cy="107.4" r="0.8"/>
<circle cx="88.8" cy="110.1" r="0.8"/>
<circle cx="88.0" cy="104.3" r="0.8"/>
<circle cx="89.5" cy="99.7" r="0.8"/>
<circle cx="88.0" cy="108.2" r="0.8"/>
<circle cx="87.9" cy="104.6" r="0.8"/>
<circle cx="91.8" cy="98.2" r="0.8"/>
<circle cx="88.6" cy="105.5" r="0.8"/>
<circle cx="89.9" cy="106.0" r="0.8"/>
<circle cx="91.2" cy="98.7" r="0.8"/>
<circle cx="89.1" cy="100.7" r="0.8"/>
<circle cx="88.0" cy="109.9" r="0.8"/>
<circle cx="91.1" cy="107.2" r="0.8"/>
<circle cx="87.8" cy="109.2" r="0.8"/>
<circle cx="90.9" cy="103.3" r="0.8"/>
<circle cx="90.9" cy="103.1" r="0.8"/>
<circle cx="88.7" cy="97.6" r="0.8"/>
<circle cx="88.8" cy="96.6" r="0.8"/>
<circle cx="89.2" cy="107.7" r="0.8"/>
<circle cx="90.7" cy="109.2" r="0.8"/>
<circle cx="90.8" cy="100.1" r="0.8"/>
<circle cx="90.1" cy="102.8" r="0.8"/>
<circle cx="91.1" cy="104.2" r="0.8"/>
<circle cx="88.9" cy="106.0" r="0.8"/>
<circle cx="91.9" cy="99.4" r="0.8"/>
<circle cx="91.5" cy="96.2" r="0.8"/>
<circle cx="88.9" cy="99.7" r="0.8"/>
<circle cx="90.9" cy="110.7" r="0.8"/>
<circle cx="90.9" cy="101.1" r="0.8"/>
<circle cx="91.5" cy="101.1" r="0.8"/>
<circle cx="88.8" cy="110.2" r="0.8"/>
<circle cx="90.4" cy="106.8" r="0.8"/>
<circle cx="90.6" cy="111.3" r="0.8"/>
<circle cx="89.8" cy="109.1" r="0.8"/>
<circle cx="90.7" cy="109.4" r="0.8"/>
<circle cx="89.6" cy="107.3" r="0.8"/>
<circle cx="90.2" cy="100.8" r="0.8"/>
<circle cx="88.7" cy="105.7" r="0.8"/>
<circle cx="88.1" cy="110.2" r="0.8"/>
<circle cx="88.4" cy="96.4" r="0.8"/>
<circle cx="88.2" cy="110.5" r="0.8"/>
<circle cx="89.2" cy="98.2" r="0.8"/>
<circle cx="87.9" cy="96.6" r="0.8"/>
<circle cx="90.7" cy="105.9" r="0.8"/>
<circle cx="90.7" cy="107.5" r="0.8"/>
<circle cx="88.1" cy="105.2" r="0.8"/>
<circle cx="89.3" cy="108.8" r="0.8"/>
<circle cx="91.2" cy="109.9" r="0.8"/>
<circle cx="88.1" cy="109.5" r="0.8"/>
<circle cx="91.6" cy="110.7" r="0.8"/>
<circle cx="88.2" cy="99.2" r="0.8"/>
<circle cx="88.3" cy="96.5" r="0.8"/>
<circle cx="91.4" cy="108.7" r="0.8"/>
<circle cx="90.5" cy="108.9" r="0.8"/>
<circle cx="90.5" cy="100.5" r="0.8"/>
<circle cx="88.2" cy="97.5" r="0.8"/>
<circle cx="96.2" cy="99.2" r="0.8"/>
<circle cx="93.8" cy="102.6" r="0.8"/>
<circle cx="92.1" cy="100.0" r="0.8"/>
<circle cx="93.6" cy="107.2" r="0.8"/>
<circle cx="94.0" cy="101.0" r="0.8"/>
<circle cx="97.3" cy="103.9" r="0.8"/>
<circle cx="96.7" cy="105.6" r="0.8"/>
<circle cx="92.2" cy="102.4" r="0.8"/>
<circle cx="94.4" cy="108.1" r="0.8"/>
<circle cx="93.9" cy="107.0" r="0.8"/>
<circle cx="95.0" cy="99.4" r="0.8"/>
<circle cx="96.7" cy="97.4" r="0.8"/>
<circle cx="96.5" cy="98.7" r="0.8"/>
<circle cx="92.0" cy="99.2" r="0.8"/>
<circle cx="96.2" cy="111.3" r="0.8"/>
<circle cx="92.0" cy="103.7" r="0.8"/>
<circle cx="94.7" cy="108.4" r="0.8"/>
<circle cx="93.0" cy="103.7" r="0.8"/>
<circle cx="93.9" cy="109.0" r="0.8"/>
<circle cx="93.4" cy="110.7" r="0.8"/>
<circle cx="93.6" cy="99.3" r="0.8"/>
<circle cx="95.8" cy="103.8" r="0.8"/>
<circle cx="92.6" cy="105.9" r="0.8"/>
<circle cx="92.4" cy="108.3" r="0.8"/>
<circle cx="95.8" cy="108.3" r="0.8"/>
<circle cx="95.5" cy="101.5" r="0.8"/>
<circle cx="94.2" cy="102.2" r="0.8"/>
<circle cx="96.9" cy="97.3" r="0.8"/>
<circle cx="96.9" cy="96.4" r="0.8"/>
<circle cx="93.1" cy="100.1" r="0.8"/>
<circle cx="97.0" cy="103.8" r="0.8"/>
<circle cx="94.1" cy="109.8" r="0.8"/>
<circle cx="93.3" cy="103.2" r="0.8"/>
<circle cx="94.9" cy="107.8" r="0.8"/>
<circle cx="96.1" cy="106.1" r="0.8"/>
<circle cx="93.9" cy="101.1" r="0.8"/>
<circle cx="92.9" cy="109.2" r="0.8"/>
<circle cx="95.6" cy="107.6" r="0.8"/>
<circle cx="92.9" cy="102.8" r="0.8"/>
<circle cx="96.3" cy="105.0" r="0.8"/>
<circle cx="92.7" cy="103.2" r="0.8"/>
<circle cx="96.9" cy="99.7" r="0.8"/>
<circle cx="93.1" cy="100.7" r="0.8"/>
<circle cx="95.9" cy="109.2" r="0.8"/>
<circle cx="92.9" cy="98.4" r="0.8"/>
<circle cx="93.4" cy="101.1" r="0.8"/>
<circle cx="94.9" cy="98.5" r="0.8"/>
<circle cx="93.8" cy="99.0" r="0.8"/>
<circle cx="97.4" cy="107.4" r="0.8"/>
<circle cx="92.6" cy="111.0" r="0.8"/>
</g>
<!-- inset -->
<rect x="198" y="112.6" width="128" height="93" fill="#fff" opacity="0"/>
<rect x="210.3" y="116.4" width="108.3" height="81.2" fill="#fff"/>
<path d="M231.96,197.6 v-2 M231.96,116.4 v2 M253.62,197.6 v-2 M253.62,116.4 v2 M275.28,197.6 v-2 M275.28,116.4 v2 M296.94,197.6 v-2 M296.94,116.4 v2 M210.3,188.58 h2 M318.6,188.58 h-2 M210.3,179.56 h2 M318.6,179.56 h-2 M210.3,170.53 h2 M318.6,170.53 h-2 M210.3,161.51 h2 M318.6,161.51 h-2 M210.3,152.49 h2 M318.6,152.49 h-2 M210.3,143.47 h2 M318.6,143.47 h-2 M210.3,134.44 h2 M318.6,134.44 h-2 M210.3,125.42 h2 M318.6,125.42 h-2" stroke="#222" stroke-width="0.6" fill="none"/>
<circle cx="225" cy="179.3" r="1.25" fill="#f4b8b8"/>
<circle cx="224.3" cy="193.1" r="1.25" fill="#f4b8b8"/>
<circle cx="249.3" cy="182.4" r="1.25" fill="#f4b8b8"/>
<circle cx="265" cy="184.0" r="1.25" fill="#f4b8b8"/>
<circle cx="278" cy="186.5" r="1.25" fill="#f4b8b8"/>
<circle cx="240.4" cy="174" r="1.5" fill="#d00000" stroke="#000" stroke-width="0.45"/>
<circle cx="234.3" cy="183.9" r="1.5" fill="#d00000" stroke="#000" stroke-width="0.45"/>
<circle cx="238.7" cy="182.1" r="1.5" fill="#d00000" stroke="#000" stroke-width="0.45"/>
<circle cx="227.4" cy="192.1" r="1.5" fill="#d00000" stroke="#000" stroke-width="0.45"/>
<circle cx="211.9" cy="176.4" r="1.5" fill="#0000d0" stroke="#000" stroke-width="0.45"/>
<circle cx="229.9" cy="138.1" r="1.5" fill="#0000d0" stroke="#000" stroke-width="0.45"/>
<circle cx="241.3" cy="120.2" r="1.5" fill="#0000d0" stroke="#000" stroke-width="0.45"/>
<circle cx="261.5" cy="191.5" r="1.5" fill="#0000d0" stroke="#000" stroke-width="0.45"/>
<rect x="274.4" y="117.8" width="42.0" height="18.3" fill="#fff" stroke="#333" stroke-width="0.8"/>
<rect x="316.8" y="117.5" width="2.2" height="18.6" fill="#a0a0a0"/>
<circle cx="280.1" cy="121.6" r="1.5" fill="#0000d0" stroke="#000" stroke-width="0.4"/>
<circle cx="280.1" cy="127.0" r="1.5" fill="#d00000" stroke="#000" stroke-width="0.4"/>
<circle cx="280.1" cy="132.3" r="1.3" fill="#f4b8b8"/>
<g font-size="4.5" fill="#333">
<text x="286.8" y="123.3" textLength="16.8" lengthAdjust="spacingAndGlyphs">p &gt;= 0.9</text>
<text x="286.8" y="128.6" textLength="28.0" lengthAdjust="spacingAndGlyphs">0.5 &lt;= p &lt; 0.9</text>
<text x="286.8" y="134.0" textLength="13.3" lengthAdjust="spacingAndGlyphs">0.5 &gt; p</text>
</g>
<rect x="210.3" y="116.4" width="108.3" height="81.2" fill="none" stroke="#222" stroke-width="1.0"/>
<g font-size="5.7" fill="#1a1a1a" stroke="#1a1a1a" stroke-width="0.08">
<text x="207.6" y="199.5" text-anchor="end" textLength="7.6" lengthAdjust="spacingAndGlyphs">0.0</text>
<text x="207.6" y="190.5" text-anchor="end" textLength="7.6" lengthAdjust="spacingAndGlyphs">0.2</text>
<text x="207.6" y="181.5" text-anchor="end" textLength="7.6" lengthAdjust="spacingAndGlyphs">0.4</text>
<text x="207.6" y="172.4" text-anchor="end" textLength="7.6" lengthAdjust="spacingAndGlyphs">0.6</text>
<text x="207.6" y="163.4" text-anchor="end" textLength="7.6" lengthAdjust="spacingAndGlyphs">0.8</text>
<text x="207.6" y="154.4" text-anchor="end" textLength="7.6" lengthAdjust="spacingAndGlyphs">1.0</text>
<text x="207.6" y="145.4" text-anchor="end" textLength="7.6" lengthAdjust="spacingAndGlyphs">1.2</text>
<text x="207.6" y="136.3" text-anchor="end" textLength="7.6" lengthAdjust="spacingAndGlyphs">1.4</text>
<text x="207.6" y="127.3" text-anchor="end" textLength="7.6" lengthAdjust="spacingAndGlyphs">1.6</text>
<text x="207.6" y="118.3" text-anchor="end" textLength="7.6" lengthAdjust="spacingAndGlyphs">1.8</text>
<text x="210.3" y="204.9" text-anchor="middle" textLength="2.8" lengthAdjust="spacingAndGlyphs">0</text>
<text x="232.0" y="204.9" text-anchor="middle" textLength="8.5" lengthAdjust="spacingAndGlyphs">200</text>
<text x="253.6" y="204.9" text-anchor="middle" textLength="8.5" lengthAdjust="spacingAndGlyphs">400</text>
<text x="275.3" y="204.9" text-anchor="middle" textLength="8.5" lengthAdjust="spacingAndGlyphs">600</text>
<text x="296.9" y="204.9" text-anchor="middle" textLength="8.5" lengthAdjust="spacingAndGlyphs">800</text>
<text x="318.6" y="204.9" text-anchor="middle" textLength="12" lengthAdjust="spacingAndGlyphs">1000</text>
</g>
<text x="264.6" y="212.8" font-size="5.6" text-anchor="middle" textLength="69.3" lengthAdjust="spacingAndGlyphs" fill="#1a1a1a" stroke="#1a1a1a" stroke-width="0.08">Time since GBM trigger (s)</text>
<text transform="translate(195.6,156.8) rotate(-90)" font-size="5.8" text-anchor="middle" textLength="33.6" lengthAdjust="spacingAndGlyphs" fill="#1a1a1a" stroke="#1a1a1a" stroke-width="0.08">Energy (GeV)</text>
<!-- frames -->
<path d="M45.5,112.00 h2.8 M45.5,96.44 h2.8 M45.5,80.89 h2.8 M45.5,65.33 h2.8 M45.5,49.77 h2.8 M45.5,34.21 h2.8 M45.5,18.66 h2.8 M45.5,3.10 h2.8 M326.0,99.90 h-2.8 M326.0,87.80 h-2.8 M326.0,75.70 h-2.8 M326.0,63.60 h-2.8 M326.0,51.50 h-2.8 M326.0,39.40 h-2.8 M326.0,27.30 h-2.8 M326.0,15.20 h-2.8 M92.40,3.4 v2.8 M92.40,112.3 v-2.8 M92.40,112.3 v2.8 M92.40,221.3 v-2.8 M150.80,3.4 v2.8 M150.80,112.3 v-2.8 M150.80,112.3 v2.8 M150.80,221.3 v-2.8 M209.20,3.4 v2.8 M209.20,112.3 v-2.8 M209.20,112.3 v2.8 M209.20,221.3 v-2.8 M267.60,3.4 v2.8 M267.60,112.3 v-2.8 M267.60,112.3 v2.8 M267.60,221.3 v-2.8 M45.5,193.80 h2.8 M326.0,193.80 h-2.8 M45.5,166.30 h2.8 M326.0,166.30 h-2.8 M45.5,138.80 h2.8 M326.0,138.80 h-2.8" stroke="#333" stroke-width="0.8" fill="none"/>
<rect x="45.5" y="3.4" width="280.5" height="108.9" fill="none" stroke="#333" stroke-width="1.2"/>
<rect x="45.5" y="112.3" width="280.5" height="109.0" fill="none" stroke="#333" stroke-width="1.2"/>
<g font-size="8.2" fill="#111" stroke="#111" stroke-width="0.2">
<text x="42.8" y="114.7" text-anchor="end" textLength="4.7" lengthAdjust="spacingAndGlyphs">0</text>
<text x="42.8" y="99.1" text-anchor="end" textLength="23.6" lengthAdjust="spacingAndGlyphs">10000</text>
<text x="42.8" y="83.6" text-anchor="end" textLength="23.6" lengthAdjust="spacingAndGlyphs">20000</text>
<text x="42.8" y="68.0" text-anchor="end" textLength="23.6" lengthAdjust="spacingAndGlyphs">30000</text>
<text x="42.8" y="52.5" text-anchor="end" textLength="23.6" lengthAdjust="spacingAndGlyphs">40000</text>
<text x="42.8" y="36.9" text-anchor="end" textLength="23.6" lengthAdjust="spacingAndGlyphs">50000</text>
<text x="42.8" y="21.4" text-anchor="end" textLength="23.6" lengthAdjust="spacingAndGlyphs">60000</text>
<text x="42.8" y="5.8" text-anchor="end" textLength="23.6" lengthAdjust="spacingAndGlyphs">70000</text>
<text x="328.9" y="102.6" text-anchor="start" textLength="14.2" lengthAdjust="spacingAndGlyphs">100</text>
<text x="328.9" y="90.5" text-anchor="start" textLength="14.2" lengthAdjust="spacingAndGlyphs">200</text>
<text x="328.9" y="78.4" text-anchor="start" textLength="14.2" lengthAdjust="spacingAndGlyphs">300</text>
<text x="328.9" y="66.3" text-anchor="start" textLength="14.2" lengthAdjust="spacingAndGlyphs">400</text>
<text x="328.9" y="54.2" text-anchor="start" textLength="14.2" lengthAdjust="spacingAndGlyphs">500</text>
<text x="328.9" y="42.1" text-anchor="start" textLength="14.2" lengthAdjust="spacingAndGlyphs">600</text>
<text x="328.9" y="30.0" text-anchor="start" textLength="14.2" lengthAdjust="spacingAndGlyphs">700</text>
<text x="328.9" y="17.9" text-anchor="start" textLength="14.2" lengthAdjust="spacingAndGlyphs">800</text>
<text x="328.9" y="5.8" text-anchor="start" textLength="14.2" lengthAdjust="spacingAndGlyphs">900</text>
<text x="42.8" y="224.0" text-anchor="end" textLength="4.7" lengthAdjust="spacingAndGlyphs">0</text>
<text x="42.8" y="196.5" text-anchor="end" textLength="23.6" lengthAdjust="spacingAndGlyphs">50000</text>
<text x="42.8" y="169.0" text-anchor="end" textLength="28.3" lengthAdjust="spacingAndGlyphs">100000</text>
<text x="42.8" y="141.5" text-anchor="end" textLength="28.3" lengthAdjust="spacingAndGlyphs">150000</text>
<text x="92.4" y="229.6" text-anchor="middle" textLength="16.4" lengthAdjust="spacingAndGlyphs">0.00</text>
<text x="150.8" y="229.6" text-anchor="middle" textLength="16.4" lengthAdjust="spacingAndGlyphs">0.05</text>
<text x="209.2" y="229.6" text-anchor="middle" textLength="16.4" lengthAdjust="spacingAndGlyphs">0.10</text>
<text x="267.6" y="229.6" text-anchor="middle" textLength="16.4" lengthAdjust="spacingAndGlyphs">0.15</text>
<text x="326.0" y="229.6" text-anchor="middle" textLength="16.4" lengthAdjust="spacingAndGlyphs">0.20</text>
</g>
<g font-size="10.9" fill="#111" stroke="#111" stroke-width="0.28">
<text x="185.9" y="242.3" text-anchor="middle" textLength="161" lengthAdjust="spacingAndGlyphs">Time since GBM trigger-time</text>
<text transform="translate(13.6,58.1) rotate(-90)" font-size="12.3" stroke-width="0.1" text-anchor="middle" textLength="52.8" lengthAdjust="spacingAndGlyphs">Rate (Hz)</text>
<text transform="translate(9.5,166.5) rotate(-90)" font-size="12.3" stroke-width="0.1" text-anchor="middle" textLength="52.8" lengthAdjust="spacingAndGlyphs">Rate (Hz)</text>
<text transform="translate(355.0,57.5) rotate(-90)" font-size="12.3" stroke-width="0.1" text-anchor="middle" textLength="72.2" lengthAdjust="spacingAndGlyphs">Energy (keV)</text>
</g>
</svg>
</body></html>
